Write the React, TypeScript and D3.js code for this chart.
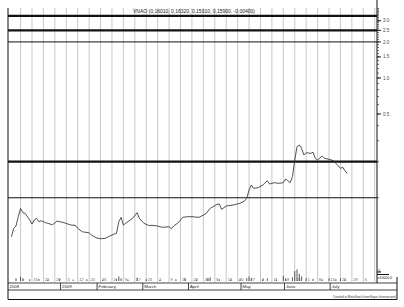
import React from "react";
import * as d3 from "d3";

const TITLE = "VNAO (0,16010, 0,16320, 0,15010, 0,15900, -0,00400)";
const CREDIT = "Created in MetaStock from Equis International";

// [trading-day index, close]
const closes: [number, number][] = [
  [1, 0.0473], [2, 0.0556], [3, 0.0581], [4, 0.0695], [5, 0.0816], [6, 0.075], [7, 0.0741],
  [9, 0.0652], [10, 0.0603], [11, 0.0652], [12, 0.0673], [13, 0.0631], [14, 0.0643], [16, 0.0619],
  [19, 0.0595], [21, 0.0639], [24, 0.0619], [27, 0.0592], [29, 0.0588], [30, 0.0556], [32, 0.052],
  [35, 0.051], [36, 0.0488], [38, 0.0464], [40, 0.0455], [42, 0.0458], [44, 0.0479], [46, 0.0498],
  [47, 0.0504], [48, 0.0631], [49, 0.0686], [50, 0.0592], [51, 0.0612], [54, 0.0673], [56, 0.075],
  [57, 0.0673], [59, 0.0612], [61, 0.0588], [63, 0.0588], [65, 0.0581], [67, 0.0566], [70, 0.0573],
  [71, 0.0551], [72, 0.0581], [74, 0.0619], [76, 0.0686], [78, 0.0695], [80, 0.0695], [83, 0.0686],
  [86, 0.0732], [88, 0.0816], [91, 0.0881], [92, 0.0887], [93, 0.08], [95, 0.0853], [98, 0.087],
  [101, 0.0898], [103, 0.0939], [104, 0.099], [105, 0.116], [106, 0.1277], [107, 0.1199], [109, 0.1213],
  [111, 0.1277], [113, 0.1388], [114, 0.1302], [116, 0.1336], [118, 0.132], [120, 0.1336], [121, 0.1434],
  [122, 0.1388], [123, 0.1336], [124, 0.1499], [125, 0.2066], [126, 0.2668], [127, 0.2758], [128, 0.2587],
  [129, 0.2275], [130, 0.2377], [132, 0.235], [133, 0.2396], [134, 0.2135], [135, 0.2066], [137, 0.2231],
  [138, 0.2135], [140, 0.2095], [142, 0.2039], [143, 0.194], [145, 0.1761], [146, 0.1796], [147, 0.1682],
  [148, 0.159],
];

// [trading-day index, volume (x100000)]
const volumes: [number, number][] = [
  [3, 1.5], [5, 2.5], [6, 1], [9, 1], [13, 1.2], [17, 0.8], [22, 1], [28, 0.8], [34, 1], [41, 0.8],
  [47, 1.2], [48, 2.5], [49, 1.5], [52, 0.8], [56, 1.8], [60, 1], [66, 0.7], [73, 1], [77, 1.5],
  [82, 0.8], [87, 1.5], [88, 2], [92, 1], [97, 0.8], [101, 1], [104, 1.5], [105, 2.5], [106, 1.5],
  [111, 1], [113, 1.5], [117, 0.8], [120, 2.8], [121, 1.2], [124, 2], [125, 5.5], [126, 6.5],
  [127, 4], [128, 2.5], [130, 1.5], [133, 1.2], [137, 1], [140, 1.5], [143, 1], [145, 1.5], [147, 1],
];

const levelValues = [3.3, 2.5, 2.0, 0.2, 0.1];
const levelHeavy = [true, true, false, true, false];

const priceTicks = [3.0, 2.5, 2.0, 1.5, 1.0, 0.5];
const minorTicks = d3.range(1, 39).map((k) => k / 10);

const monthNames = ["2008", "2009", "February", "March", "April", "May", "June", "July"];
const monthStarts = [0, 23, 39, 59, 79, 102, 121, 141];

const weekLabels = [
  "8", "15", "22", "29", "5", "12", "20", "26", "2", "9", "17", "23", "2", "9", "16", "23", "30",
  "6", "14", "20", "27", "4", "11", "18", "26", "1", "8", "15", "22", "29", "6",
];

const FONT = "Liberation Sans, Arial, sans-serif";

export default function App() {
  const W = 404, H = 307;
  const left = 8, right = 377, top = 8, plotBottom = 282;
  const x = d3.scaleLinear().domain([-0.5, 161]).range([left, right]);
  const y = d3.scaleLog().domain([0.0198, 3.84]).range([plotBottom, top]);
  const v = d3.scaleLinear().domain([0, 10]).range([281, 263]);
  const line = d3.line<[number, number]>().x((d) => x(d[0])).y((d) => y(d[1]));
  const grid = d3.range(5, 161, 5);

  return (
    <div style={{ position: "absolute", left: 0, top: 0 }}>
      <svg width={W} height={H} style={{ display: "block", background: "#fff" }} fontFamily={FONT}>
        {grid.map((g) => (
          <line key={g} x1={x(g)} x2={x(g)} y1={top} y2={plotBottom} stroke="#c8c8c8" strokeWidth={1} />
        ))}
        {volumes.map(([d, val]) => (
          <line key={"v" + d} x1={x(d)} x2={x(d)} y1={v(0)} y2={v(val)} stroke="#444" strokeWidth={0.9} />
        ))}
        {weekLabels.map((t, k) => (
          <text key={"w" + k} x={x(grid[k]) + 1.5} y={280.5} fontSize={3.8} fill="#555">
            {t}
          </text>
        ))}
        {levelValues.map((lv, k) => (
          <line key={"l" + k} x1={left} x2={right} y1={y(lv)} y2={y(lv)} stroke="#111"
            strokeWidth={levelHeavy[k] ? 2.3 : 1} />
        ))}
        <path d={line(closes) || ""} fill="none" stroke="#333" strokeWidth={0.85} strokeLinejoin="round" />
        <text x={133} y={13} fontSize={4.8} fill="#222" textLength={122} lengthAdjust="spacingAndGlyphs">
          {TITLE}
        </text>
        <line x1={right} x2={right} y1={0} y2={283} stroke="#111" strokeWidth={1} />
        {minorTicks.map((t) => (
          <rect key={"m" + t} x={right + 0.5} y={y(t) - 0.5} width={1.2} height={1} fill="#222" />
        ))}
        {priceTicks.map((t) => (
          <g key={"t" + t}>
            <line x1={right} x2={right + 4} y1={y(t)} y2={y(t)} stroke="#111" strokeWidth={1} />
            <text x={383} y={y(t) + 1.6} fontSize={4.6} fill="#444">
              {t.toFixed(1)}
            </text>
          </g>
        ))}
        <line x1={right} x2={right + 4} y1={v(5)} y2={v(5)} stroke="#111" strokeWidth={1} />
        <text x={378} y={271.5} fontSize={4} fill="#222">5</text>
        <line x1={377} x2={389} y1={274.5} y2={274.5} stroke="#111" strokeWidth={1} />
        <text x={377.5} y={278.5} fontSize={3.6} fill="#222">x10000</text>
        <text x={390} y={278.5} fontSize={3.6} fill="#222">0</text>
        <line x1={left} x2={397} y1={283} y2={283} stroke="#111" strokeWidth={0.8} />
        <line x1={left} x2={397} y1={290} y2={290} stroke="#111" strokeWidth={0.8} />
        {monthStarts.map((s, k) => (
          <g key={"mo" + k}>
            {k > 0 && (
              <line x1={x(s - 0.5)} x2={x(s - 0.5)} y1={283} y2={290} stroke="#111" strokeWidth={0.8} />
            )}
            <text x={(k === 0 ? left : x(s - 0.5)) + 1.5} y={288.2} fontSize={4.3} fill="#222">
              {monthNames[k]}
            </text>
          </g>
        ))}
        <line x1={left} x2={left} y1={top} y2={299.5} stroke="#111" strokeWidth={1} />
        <line x1={left} x2={397} y1={299.5} y2={299.5} stroke="#111" strokeWidth={1} />
        <line x1={397} x2={397} y1={277} y2={299.5} stroke="#111" strokeWidth={1} />
        <text x={396} y={297.5} fontSize={3.1} fill="#333" textAnchor="end">
          {CREDIT}
        </text>
      </svg>
    </div>
  );
}
